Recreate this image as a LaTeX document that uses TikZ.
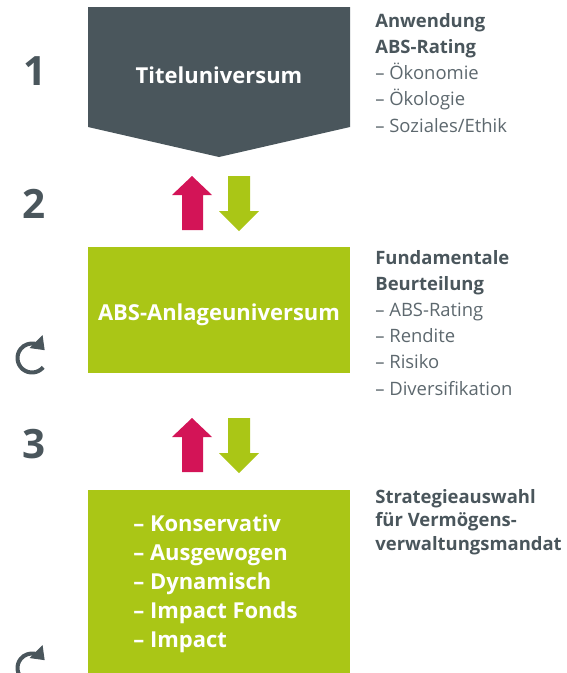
\documentclass[tikz,border=0pt]{standalone}
\usepackage{fontspec}
\setmainfont{Open Sans}
\usetikzlibrary{arrows.meta}
\definecolor{absgray}{HTML}{4A565C}
\definecolor{absgreen}{HTML}{AAC616}
\definecolor{absred}{HTML}{D31457}
\definecolor{abstext}{HTML}{5D686E}
\begin{document}
\begin{tikzpicture}[x=0.02cm,y=-0.02cm,
  num/.style={font=\fontsize{23}{23}\selectfont\bfseries,text=absgray,anchor=base},
  boxtext/.style={font=\fontsize{12.5}{16.4}\selectfont\bfseries,text=white},
  side/.style={anchor=base west,align=left,inner sep=0pt,text=abstext,font=\fontsize{10.5}{14.9}\selectfont}]
\useasboundingbox (0,0) rectangle (567,673);
% boxes
\fill[absgray] (88,7) -- (350,7) -- (350,127) -- (219,157) -- (88,127) -- cycle;
\fill[absgreen] (88,247) rectangle (350,373);
\fill[absgreen] (88,490) rectangle (350,673);
\node[boxtext,anchor=base] (titel) at (219,83) {Titeluniversum};
\node[boxtext,anchor=base] (anlage) at (219,320) {ABS-Anlageuniversum};
\node[boxtext,anchor=base west,align=left,inner sep=0pt] (mandat) at (133,647)
  {– Konservativ\\– Ausgewogen\\– Dynamisch\\– Impact Fonds\\– Impact};
% numbers
\node[num] (n1) at (35,85) {1};
\node[num] (n2) at (34,218) {2};
\node[num] (n3) at (34,458) {3};
% up/down arrows
\foreach \d in {0,242}{
  \fill[absred] (182,230+\d) -- (182,195+\d) -- (172,195+\d) -- (192,176+\d)
    -- (212,195+\d) -- (203,195+\d) -- (203,230+\d) -- cycle;
  \fill[absgreen] (228,176+\d) -- (250,176+\d) -- (250,211+\d) -- (259,211+\d)
    -- (239,231+\d) -- (219,211+\d) -- (228,211+\d) -- cycle;
}
% refresh icons
\foreach \cy in {358,668}{
  \draw[absgray,line width=2.3pt,shorten >=-2pt,-{Triangle[length=7pt,width=10pt]}]
    (32,\cy) ++(40:14.5) arc[start angle=40,end angle=315,radius=14.5];
}
% side texts
\node[side] (anwendung) at (375,132)
  {\textbf{\color{absgray}Anwendung}\\\textbf{\color{absgray}ABS-Rating}\\– Ökonomie\\– Ökologie\\– Soziales/Ethik};
\node[side] (beurteilung) at (375,395)
  {\textbf{\color{absgray}Fundamentale}\\\textbf{\color{absgray}Beurteilung}\\– ABS-Rating\\– Rendite\\– Risiko\\– Diversifikation};
\node[side,font=\fontsize{10.5}{13.3}\selectfont\bfseries,text=absgray] (strategie) at (375,550)
  {Strategieauswahl\\für Vermögens-\\verwaltungsmandat};
\end{tikzpicture}
\end{document}
